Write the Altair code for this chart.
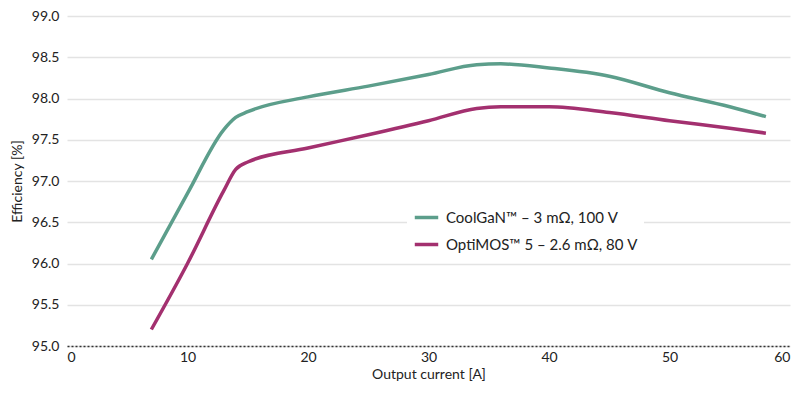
import altair as alt
import pandas as pd

series_names = ["CoolGaN™ – 3 mΩ, 100 V", "OptiMOS™ 5 – 2.6 mΩ, 80 V"]
gan_x = [7, 10, 13, 14, 15, 20, 25, 30, 34, 36, 40, 45, 50, 55, 58]
gan_y = [96.05, 96.85, 97.62, 97.77, 97.84, 98.02, 98.15, 98.29, 98.41, 98.42, 98.37, 98.27, 98.07, 97.9, 97.78]
opt_x = [7, 10, 13, 14, 15, 20, 25, 30, 34, 36, 40, 45, 50, 55, 58]
opt_y = [95.2, 96.0, 96.88, 97.14, 97.23, 97.4, 97.56, 97.73, 97.88, 97.9, 97.9, 97.83, 97.73, 97.64, 97.58]

rows = []
for x, y in zip(gan_x, gan_y):
    rows.append({"x": x, "y": y, "s": series_names[0]})
for x, y in zip(opt_x, opt_y):
    rows.append({"x": x, "y": y, "s": series_names[1]})
df = pd.DataFrame(rows)

FONT = "Lato"

chart = alt.Chart(df).mark_line(strokeWidth=3.5, interpolate="monotone").encode(
    x=alt.X("x:Q", scale=alt.Scale(domain=[0, 60]),
            axis=alt.Axis(values=[0, 10, 20, 30, 40, 50, 60], title="Output current [A]",
                          grid=False, ticks=False, domainDash=[2, 2], domainColor="#333",
                          domainWidth=1.5, labelPadding=4, titlePadding=3)),
    y=alt.Y("y:Q", scale=alt.Scale(domain=[95, 99]),
            axis=alt.Axis(values=[95, 95.5, 96, 96.5, 97, 97.5, 98, 98.5, 99], format=".1f",
                          title="Efficiency  [%]", domain=False, ticks=False,
                          gridColor="#e3e3e3", gridWidth=1.5, labelPadding=8, titlePadding=7)),
    color=alt.Color("s:N", sort=series_names,
                    scale=alt.Scale(domain=series_names, range=["#5c9e8b", "#a3306f"]),
                    legend=alt.Legend(title=None, orient="none", legendX=340, legendY=182,
                                      symbolType="stroke", symbolStrokeWidth=3.5, symbolSize=550,
                                      fillColor="white", padding=6, labelFontSize=15,
                                      labelFont=FONT, labelColor="#222", rowPadding=5,
                                      labelLimit=400, labelOffset=6)),
).properties(
    width=723, height=330,
    autosize=alt.AutoSizeParams(type="none"),
    padding={"left": 59, "top": 8, "right": 2, "bottom": 37},
).configure_axis(
    labelFont=FONT, titleFont=FONT, labelFontSize=14, titleFontSize=14,
    labelColor="#222", titleColor="#222", titleFontWeight="normal",
).configure_view(stroke=None)

chart.save("out.html", embed_options={"renderer": "svg", "actions": False})
